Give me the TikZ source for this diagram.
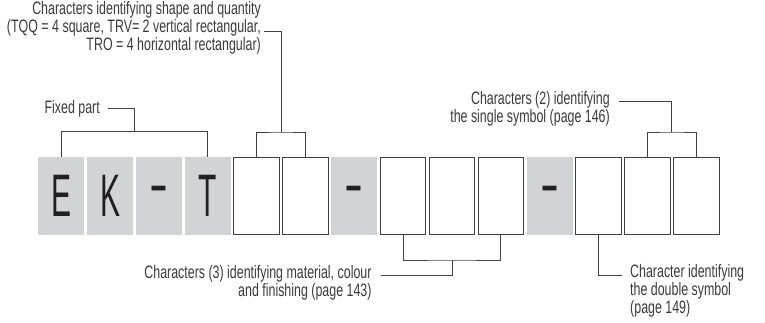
\documentclass[tikz,border=0pt]{standalone}
\usepackage{fontspec}
\setmainfont{Liberation Sans}[FakeStretch=0.69]
\newfontfamily\bigletters{Liberation Sans}[FakeStretch=0.5]
\newfontfamily\dashfont{Liberation Sans}[FakeStretch=0.95]
\newcommand\keydash{\raisebox{0.5pt}{\dashfont -}}
\usetikzlibrary{calc,positioning}

\definecolor{keygrey}{HTML}{D1D3D4}
\definecolor{inkblack}{HTML}{231F20}
\definecolor{labelgrey}{HTML}{3A3A3A}
\definecolor{wiregrey}{HTML}{404040}

\tikzset{
  keybox/.style={fill=keygrey,draw=none,inner sep=0pt,minimum width=46.3pt,minimum height=78pt,
    text=inkblack,font=\bigletters\fontsize{60}{60}\selectfont},
  slotbox/.style={fill=white,draw=wiregrey,line width=0.9pt,inner sep=0pt,minimum width=45.4pt,minimum height=77.1pt},
  lbl/.style={inner sep=0pt,text=labelgrey,font=\fontsize{18}{15}\selectfont},
  wire/.style={draw=wiregrey,line width=0.9pt}
}

\begin{document}
\begin{tikzpicture}[x=1pt,y=-1pt]
\useasboundingbox (0,0) rectangle (765,322);
% code boxes
\foreach \i/\ch/\kind in {0/E/keybox,1/K/keybox,2/\keydash/keybox,3/T/keybox,4//slotbox,5//slotbox,6/\keydash/keybox,
  7//slotbox,8//slotbox,9//slotbox,10/\keydash/keybox,11//slotbox,12//slotbox,13//slotbox}{
  \node[\kind] (b\i) at ({61.15+48.86*\i},196) {\ch};}

% labels (base = last line)
\node[lbl,anchor=base east,align=right] (fixed) at (100,113.5) {Fixed part};
\node[lbl,anchor=base east,align=right] (shape) at (261,50) {Characters identifying shape and quantity\\
  (TQQ = 4 square, TRV= 2 vertical rectangular,\\ TRO = 4 horizontal rectangular)};
\node[lbl,anchor=base east,align=right] (single) at (610,122) {Characters (2) identifying\\
  the single symbol (page 146)};
\node[lbl,anchor=base east,align=right] (matl) at (371.7,296.7) {Characters (3) identifying material, colour\\
  and finishing (page 143)};
\node[lbl,anchor=base west,align=left] (double) at (630,313) {Character identifying\\
  the double symbol\\ (page 149)};

% bracket joints
\coordinate (fixm) at ($(b0.north)!0.5!(b3.north)+(0,-25)$);
\coordinate (shapem) at ($(b4.north)!0.5!(b5.north)+(0,-25)$);
\coordinate (singlem) at ($(b12.north)!0.5!(b13.north)+(0,-25)$);
\coordinate (matlm) at ($(b7.south)!0.5!(b9.south)+(0,25)$);

% connectors
\draw[wire] (b0.north) |- (fixm) -| (b3.north);
\draw[wire] ([xshift=8pt,yshift=5.5pt]fixed.base east) -| (fixm);
\draw[wire] (b4.north) |- (shapem) -| (b5.north);
\draw[wire] ([xshift=3pt,yshift=19pt]shape.base east) -| (shapem);
\draw[wire] (b12.north) |- (singlem) -| (b13.north);
\draw[wire] ([xshift=9pt,yshift=20.7pt]single.base east) -| (singlem);
\draw[wire] (b7.south) |- (matlm) -| (b9.south);
\draw[wire] ([xshift=9pt,yshift=21.7pt]matl.base east) -| ($(matlm)+(0,14)$) -- (matlm);
\draw[wire] (b11.south) |- ([xshift=-8pt,yshift=38pt]double.base west);
\end{tikzpicture}
\end{document}
